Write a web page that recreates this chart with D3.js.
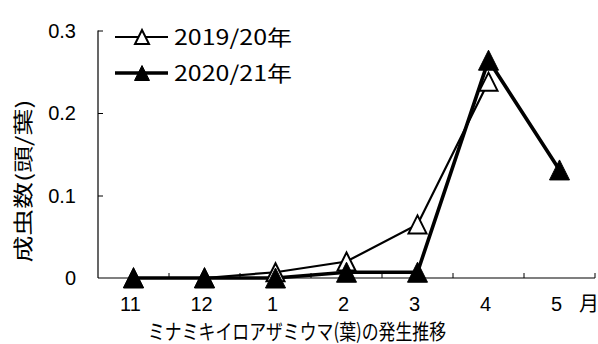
<!DOCTYPE html>
<html><head><meta charset="utf-8">
<script src="https://cdn.jsdelivr.net/npm/d3@7"></script>
<style>
body{margin:0;background:#fff}
svg{display:block}
text{fill:#000}
</style></head>
<body><svg id="c" width="598" height="344"></svg>
<script>
const months = ["11","12","1","2","3","4","5"];
const s2019 = [0, 0, 0.007, 0.02, 0.065, 0.238, null];
const s2020 = [0, 0, 0, 0.007, 0.007, 0.264, 0.131];
const seriesNames = ["2019/20年","2020/21年"];
const yTicks = [0, 0.1, 0.2, 0.3];
const yTitle = "成虫数(頭/葉)";
const xTitle = "ミナミキイロアザミウマ(葉)の発生推移";
const unit = "月";

const svg = d3.select("#c");
const L = 98, R = 595, T = 30.5, B = 278;
const x = d3.scaleBand().domain(months).range([L, R]);
const y = d3.scaleLinear().domain([0, 0.3]).range([B, T]);
const cx = m => x(m) + x.bandwidth()/2;

// y axis
const ya = svg.append("g").attr("transform", `translate(${L},0)`)
  .call(d3.axisRight(y).tickValues(yTicks.slice(1)).tickSize(5).tickFormat(""));
ya.select(".domain").attr("d", `M0,${T}V${B}`).attr("stroke","#000").attr("stroke-width",1.2);
ya.selectAll(".tick line").attr("stroke","#000");
svg.append("g").selectAll("text").data(yTicks).join("text")
  .attr("x", 76).attr("y", d => y(d)).attr("dy","0.36em")
  .attr("text-anchor","end").attr("font-family","Liberation Sans, Arial, sans-serif")
  .attr("font-size", 20).text(d => d === 0 ? "0" : d3.format(".1f")(d));

// x axis
const xa = svg.append("g").attr("transform", `translate(0,${B})`)
  .call(d3.axisTop(x).tickSize(0).tickFormat(""));
xa.select(".domain").attr("d", `M${L},0H${R}`).attr("stroke","#000").attr("stroke-width",1.2);
xa.selectAll(".tick").remove();
svg.append("g").selectAll("line").data(months).join("line")
  .attr("x1", d => x(d) + x.bandwidth()).attr("x2", d => x(d) + x.bandwidth())
  .attr("y1", B).attr("y2", B - 5).attr("stroke","#000");
svg.append("g").selectAll("text").data(months).join("text")
  .attr("x", d => cx(d) - 3).attr("y", 311)
  .attr("text-anchor","middle").attr("font-family","Liberation Sans, Arial, sans-serif")
  .attr("font-size", 20).text(d => d);
svg.append("text").attr("x", 579).attr("y", 311)
  .attr("font-family","Noto Sans CJK JP, sans-serif").attr("font-size", 20).text(unit);

// titles
svg.append("text").attr("transform","translate(31,181) rotate(-90)")
  .attr("text-anchor","middle").attr("font-family","Noto Sans CJK JP, sans-serif")
  .attr("font-size", 20).attr("textLength",163).attr("lengthAdjust","spacingAndGlyphs").text(yTitle);
svg.append("text").attr("x", 148).attr("y", 339)
  .attr("font-family","Noto Sans CJK JP, sans-serif")
  .attr("font-size", 21).attr("textLength",298).attr("lengthAdjust","spacingAndGlyphs").text(xTitle);

// lines
const line = d3.line().defined(d => d.v != null).x(d => cx(d.m)).y(d => y(d.v));
const d19 = months.map((m,i) => ({m, v: s2019[i]}));
const d20 = months.map((m,i) => ({m, v: s2020[i]}));
svg.append("path").datum(d19).attr("d", line).attr("fill","none").attr("stroke","#000").attr("stroke-width",2.2);
svg.append("path").datum(d20).attr("d", line).attr("fill","none").attr("stroke","#000").attr("stroke-width",3.6);

const tri = s => `M0,${-s}L${s},${s}L${-s},${s}Z`;
svg.append("g").selectAll("path").data(d19.filter(d => d.v != null)).join("path")
  .attr("transform", d => `translate(${cx(d.m)},${y(d.v)})`)
  .attr("d", tri(9)).attr("fill","#fff").attr("stroke","#000").attr("stroke-width",2);
svg.append("g").selectAll("path").data(d20).join("path")
  .attr("transform", d => `translate(${cx(d.m)},${y(d.v)})`)
  .attr("d", tri(10)).attr("fill","#000").attr("stroke","#000").attr("stroke-width",1);

// legend
const lg = [{y:37, w:2.2, fill:"#fff", sw:2, s:7}, {y:73, w:3.6, fill:"#000", sw:1, s:7.5}];
lg.forEach((g,i) => {
  svg.append("line").attr("x1",115).attr("x2",168).attr("y1",g.y).attr("y2",g.y)
    .attr("stroke","#000").attr("stroke-width",g.w);
  svg.append("path").attr("transform",`translate(142,${g.y})`).attr("d",tri(g.s))
    .attr("fill",g.fill).attr("stroke","#000").attr("stroke-width",g.sw);
  svg.append("text").attr("x",174).attr("y",g.y+8)
    .attr("font-family","Noto Sans CJK JP, sans-serif").attr("font-size",21)
    .attr("textLength",118).attr("lengthAdjust","spacingAndGlyphs").text(seriesNames[i]);
});
</script></body></html>
